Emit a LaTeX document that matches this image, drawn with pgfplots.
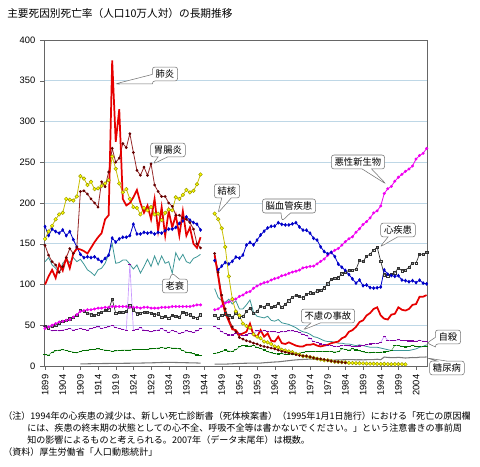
\documentclass[border=0pt]{standalone}
\usepackage{pgfplots}
\pgfplotsset{compat=1.18}
\usepackage{pgfplotstable}
\usepackage{fontspec}
\setmainfont{Liberation Sans}
\newfontfamily\jp{Noto Sans CJK JP}
\usetikzlibrary{shapes.callouts}

\definecolor{pnred}{RGB}{230,0,0}
\definecolor{galine}{RGB}{150,40,40}
\definecolor{gamark}{RGB}{100,0,0}
\definecolor{tbline}{RGB}{200,190,0}
\definecolor{tbfill}{RGB}{255,255,0}
\definecolor{tbedge}{RGB}{150,150,0}
\definecolor{cebl}{RGB}{0,0,200}
\definecolor{camag}{RGB}{240,0,240}
\definecolor{heblk}{RGB}{50,50,50}
\definecolor{seteal}{RGB}{60,150,150}
\definecolor{aclav}{RGB}{200,150,255}
\definecolor{acmark}{RGB}{128,0,160}
\definecolor{suline}{RGB}{60,150,60}
\definecolor{sumark}{RGB}{0,110,0}
\definecolor{digray}{RGB}{120,120,120}
\definecolor{gridblue}{RGB}{190,215,230}

\pgfplotstableread{
yr   pn  ga  tb  ce  ca  he  se  ac  su  di
1899 100 148 156 171 46 49 128 48 13.7 nan
1900 110 136 165 160 48 47 133 45 13.4 nan
1901 118 128 172 168 50 49 124 43 17 nan
1902 108 124 180 165 52 50 120 44 18.5 nan
1903 125 115 186 163 54 53 114 43 19.5 nan
1904 117 122 188 167 55 55 126 44 20 nan
1905 133 133 205 160 56 56 131 45 19 nan
1906 120 144 204 165 57 58 127 46 18 nan
1907 138 138 203 155 60 60 133 44 17 nan
1908 144 146 208 146 63 62 128 45 16 nan
1909 143 214 233 137 67 68 131 46 18 2.5
1910 141 215 230 133 68 67 125 45 19 2.6
1911 138 211 222 134 69 65 118 44 19.5 2.7
1912 145 205 226 133 69 63 115 46 20 2.8
1913 152 200 217 134 70 62 111 47 20.5 2.9
1914 158 195 218 131 71 64 118 48 21 3.0
1915 163 226 221 128 71 66 120 46 20 3.0
1916 180 220 224 132 72 68 126 47 19.5 3.1
1917 185 238 228 136 72 69 137 48 19 3.1
1918 375 267 257 157 73 82 150 50 18 3.2
1919 275 250 242 152 73 65 126 47 18.5 3.2
1920 315 255 224 156 73 66 127 46 19 3.3
1921 205 273 213 158 73 66 130 45 19.5 3.3
1922 197 268 217 158 73 67 130 44 19.5 3.4
1923 200 285 205 160 72 74 125 125 19.5 3.4
1924 207 262 195 174 72 69 119 44 20 3.5
1925 216 240 194 162 72 64 124 45 20 3.5
1926 200 234 186 162 71 65 114 47 20 3.6
1927 188 244 194 164 72 66 122 44 20 3.7
1928 197 234 191 163 72 66 131 43 20.5 3.8
1929 180 248 195 164 71 65 122 42 21 3.9
1930 205 222 186 162 71 63 135 43 21.5 4.0
1931 166 214 187 164 71 64 124 44 22 4.1
1932 195 208 179 163 72 60 135 46 22.5 4.3
1933 160 208 188 166 72 61 126 43 22 4.4
1934 190 200 192 168 72 59 128 41 22.5 4.5
1935 170 196 191 168 73 62 114 44 22 4.4
1936 185 185 207 170 73 61 139 42 22 4.3
1937 160 185 205 175 73 60 130 40 21 4.2
1938 190 182 210 178 73 66 137 41 19 4.1
1939 160 180 216 183 73 64 128 43 17 4.0
1940 170 176 213 179 73 63 126 42 16 3.9
1941 150 168 215 176 74 60 132 41 15 3.8
1942 145 150 223 174 75 59 134 43 13.5 3.7
1943 158 145 235 167 75 63 137 46 12.5 3.5
1944 nan nan nan nan nan nan nan nan nan nan
1945 nan nan nan nan nan nan nan nan nan nan
1946 nan nan nan nan nan nan nan nan nan nan
1947 136 138 187 129.4 69.0 62.2 95 49 15.7 2.4
1948 110 115 180 117.9 70.1 58.9 84 46 16.0 2.3
1949 82 87 169 122.6 73.5 62.4 80 42 17.9 2.2
1950 65 70 146 127.1 77.4 64.2 78 39.5 19.6 2.3
1951 55 58 110 125.2 78.5 62.0 82 38 18.2 2.5
1952 45 48 82 128.5 80.8 59.6 76 38 18.0 2.7
1953 44 42 67 133.7 82.2 64.5 80 40 20.0 3.0
1954 38 35 62 132.4 85.3 60.6 70 40 23.4 3.1
1955 40 33 52 136.1 87.1 60.9 70 37 25.2 3.3
1956 42 31 49 148.4 90.2 66.8 75 38 24.5 3.4
1957 52 30 47 151.7 91.3 71.2 81 40 24.3 3.5
1958 38 28 39 148.6 95.5 64.8 66 40 25.7 3.5
1959 36 27 36 154.5 98.2 67.1 61 43 22.7 3.6
1960 44 25 34 160.7 100.4 73.2 60 42 21.6 3.6
1961 36 24 30 165.4 102.3 72.1 59 44 19.6 4.0
1962 40 23 29 169.4 103.2 76.2 61 42 17.5 4.3
1963 31 22 27 171.4 105.5 71.9 56 42 16.1 4.6
1964 30 21 24 171.7 107.2 73.0 55 42 15.1 4.9
1965 36 19.5 23 175.8 108.4 77.0 57 41 14.7 5.1
1966 28 18 20 173.8 110.8 71.9 53 42 15.2 5.6
1967 27 17 19 173.1 111.8 75.7 52 42 14.2 6.1
1968 29 16 18 173.1 113.7 80.2 51 43 14.5 6.6
1969 27 15 17 174.4 115.3 84.6 49 43 14.5 7.1
1970 25 14 15 175.8 116.3 86.7 47 42.5 15.3 7.5
1971 24 13 14 170.6 117.7 85.2 44 41 15.6 7.8
1972 24 12.5 12 166.7 120.4 83.8 42 39 17.0 8.0
1973 26 12 12 166.6 121.2 87.9 41 37 17.4 8.2
1974 26 11 11 163.0 122.2 89.8 39 34 17.5 8.5
1975 27 10 10 156.7 122.6 89.2 36 30 18.0 8.4
1976 25 9 9 154.5 125.3 92.2 35 29 17.6 8.1
1977 24 8.5 8 146.2 128.4 92.8 33 27 17.9 7.8
1978 25 8 7 140.4 131.3 96.0 31 26 17.6 7.6
1979 26 7 7 137.7 135.7 100.8 30 25 18.0 7.5
1980 28 6 6 139.5 139.1 106.2 30 25 17.7 7.3
1981 29 5.5 5.3 134.3 142.0 107.9 29 24 17.1 7.3
1982 30 5 4.9 125.0 144.2 108.4 28 24 17.5 7.4
1983 34 4.5 4.6 121.2 148.3 113.1 28 25 21.0 7.6
1984 36 4 4.5 117.2 152.5 115.3 27 25 20.4 7.7
1985 42 nan 3.9 112.2 156.1 117.3 27 24.6 19.4 7.8
1986 44 nan 3.7 106.9 158.5 117.9 26 24 21.2 7.8
1987 48 nan 3.4 101.7 164.2 118.4 25 24 19.6 7.6
1988 54 nan 3.3 105.5 168.4 129.4 26 24.5 18.7 7.7
1989 56 nan 3.2 98.5 173.6 128.1 25 25 17.3 7.6
1990 62 nan 3.0 99.4 177.2 134.8 24 26 16.4 7.7
1991 65 nan 2.8 96.2 181.7 137.2 23 27 16.1 7.8
1992 70 nan 2.8 95.6 187.8 142.2 23 27.5 16.9 7.9
1993 72 nan 2.6 96.0 190.4 145.6 23 27.5 16.6 8.3
1994 62 nan 2.5 96.9 196.4 128.6 22 29 16.9 7.7
1995 58 nan 2.6 117.9 211.6 112.0 21 36.5 17.2 11.0
1996 57 nan 2.3 112.6 217.5 110.8 20 31.4 17.8 10.5
1997 63 nan 2.2 111.0 220.4 112.2 19 31.1 18.8 10.3
1998 64 nan 2.2 110.0 226.7 114.3 19 31.1 25.4 10.2
1999 72 nan 2.3 110.8 231.6 120.4 19 32.0 25.0 10.6
2000 69 nan 2.1 105.5 235.2 116.8 19 31.4 24.1 10.2
2001 68 nan 2.0 104.7 238.8 117.8 19 31.4 23.3 9.8
2002 70 nan nan 103.4 241.7 121.0 19 30.7 23.8 10.1
2003 75 nan nan 104.7 245.4 126.5 20 30.7 25.5 10.4
2004 76 nan nan 102.3 253.9 126.5 21 30.3 24.0 10.2
2005 85 nan nan 105.3 258.3 137.2 23 31.6 24.2 10.8
2006 85 nan nan 101.7 261.0 137.2 24 30.3 23.7 10.8
2007 87 nan nan 100.8 266.9 139.2 26 30.1 24.4 11.1
}\data

% pixel helper: image pixel (X,Y) -> picture point (axis box bottom-left at pixel (44,366))
\newcommand{\px}[2]{({(#1-44)*0.75pt},{(366-#2)*0.75pt})}

\begin{document}
\begin{tikzpicture}
\useasboundingbox \px{0}{0} rectangle \px{480}{467};
\begin{axis}[
  at={(0,0)}, anchor=south west,
  scale only axis, width=287.25pt, height=244.5pt,
  xmin=1898.7, xmax=2007.1, ymin=0, ymax=400,
  unbounded coords=jump,
  xtick={1899,1904,...,2004},
  ytick={0,50,...,400},
  ymajorgrids, grid style={draw=gridblue, line width=0.6pt},
  axis line style={draw=gray!80!black, line width=0.5pt},
  tick align=outside, major tick length=3pt,
  tick style={draw=gray!80!black},
  xtick pos=bottom, ytick pos=left,
  xticklabel style={rotate=90, anchor=east, font=\fontsize{7}{8}\selectfont},
  yticklabel style={font=\fontsize{7}{8}\selectfont},
  /pgf/number format/assume math mode=true,
  /pgf/number format/1000 sep={},
]
\addplot[digray, line width=0.8pt, mark=none] table[x=yr, y=di] {\data};
\addplot[suline, line width=0.4pt, mark=-, mark size=1.2pt, mark options={sumark, line width=0.8pt}] table[x=yr, y=su] {\data};
\addplot[aclav, line width=0.5pt, mark=-, mark size=1.2pt, mark options={acmark, line width=0.8pt}] table[x=yr, y=ac] {\data};
\addplot[seteal, line width=0.6pt, mark=none] table[x=yr, y=se] {\data};
\addplot[heblk, line width=0.5pt, mark=square, mark size=0.85pt, mark options={heblk, fill=white, line width=0.35pt}] table[x=yr, y=he] {\data};
\addplot[camag, line width=0.6pt, mark=*, mark size=0.8pt, mark options={camag}] table[x=yr, y=ca] {\data};
\addplot[cebl, line width=0.6pt, mark=diamond*, mark size=1.0pt, mark options={cebl}] table[x=yr, y=ce] {\data};
\addplot[tbline, line width=0.6pt, mark=*, mark size=1.35pt, mark options={draw=tbedge, fill=tbfill, line width=0.35pt}] table[x=yr, y=tb] {\data};
\addplot[galine, line width=0.6pt, mark=*, mark size=0.7pt, mark options={gamark}] table[x=yr, y=ga] {\data};
\addplot[pnred, line width=1.3pt, mark=none] table[x=yr, y=pn] {\data};
\end{axis}

% title
\node[anchor=west, inner sep=0pt, font=\jp\fontsize{8}{10}\selectfont] at \px{7}{13} {主要死因別死亡率（人口10万人対）の長期推移};

% callouts
\tikzset{co/.style={rectangle callout, draw=gray!90!black, fill=white, rounded corners=2pt, inner xsep=2.5pt, inner ysep=2pt, font=\jp\fontsize{7}{8}\selectfont, line width=0.4pt}}
\node[co, callout absolute pointer={\px{115}{84}}] at \px{165}{74} {肺炎};
\node[co, callout absolute pointer={\px{153}{164}}] at \px{168}{150} {胃腸炎};
\node[co, callout absolute pointer={\px{218}{213}}] at \px{227}{191} {結核};
\node[co, callout absolute pointer={\px{282}{221}}] at \px{289}{206} {脳血管疾患};
\node[co, callout absolute pointer={\px{386}{184}}] at \px{358}{162} {悪性新生物};
\node[co, callout absolute pointer={\px{380}{247}}] at \px{398}{230} {心疾患};
\node[co, callout absolute pointer={\px{172}{273}}] at \px{175}{286} {老衰};
\node[co, callout absolute pointer={\px{303}{330}}] at \px{328}{316} {不慮の事故};
\node[co, callout absolute pointer={\px{427}{343}}] at \px{448}{337} {自殺};
\node[co, callout absolute pointer={\px{427}{358}}] at \px{447}{368} {糖尿病};

% notes
\begin{scope}[every node/.style={anchor=west, inner sep=0pt, font=\jp\fontsize{6.8}{8}\selectfont}]
\node at \px{3}{416} {（注）1994年の心疾患の減少は、新しい死亡診断書（死体検案書）（1995年1月1日施行）における「死亡の原因欄};
\node at \px{27}{428} {には、疾患の終末期の状態としての心不全、呼吸不全等は書かないでください。」という注意書きの事前周};
\node at \px{27}{440} {知の影響によるものと考えられる。2007年（データ末尾年）は概数。};
\node at \px{3}{452} {（資料）厚生労働省「人口動態統計」};
\end{scope}
\end{tikzpicture}
\end{document}
